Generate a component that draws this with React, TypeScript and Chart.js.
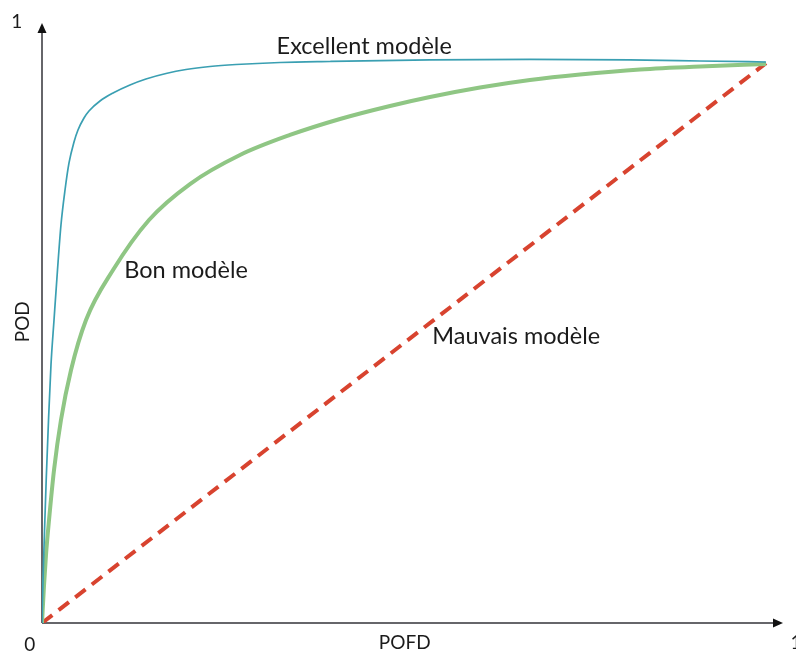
import React, { useEffect, useRef } from "react";
import { Chart, registerables } from "chart.js";

Chart.register(...registerables);

// POFD (x) and POD (y) values
const excellentX = [0, 0.0007, 0.0018, 0.0035, 0.0058, 0.009, 0.0124, 0.0166, 0.0214, 0.0262, 0.0318, 0.0373, 0.0442, 0.0497, 0.058, 0.0649, 0.0801, 0.0981, 0.1215, 0.1436, 0.1713, 0.1989, 0.232, 0.268, 0.3287, 0.3978, 0.5359, 0.674, 0.8122, 0.9088, 1.0];
const excellentY = [0, 0.041, 0.0945, 0.1658, 0.2549, 0.3619, 0.4599, 0.5401, 0.6292, 0.7094, 0.7718, 0.82, 0.8574, 0.8788, 0.9002, 0.9127, 0.9305, 0.9447, 0.959, 0.9697, 0.9795, 0.9866, 0.992, 0.9955, 0.9991, 1.0009, 1.0036, 1.0045, 1.0036, 1.0018, 1.0];

const bonX = [0, 0.0028, 0.0055, 0.0097, 0.0166, 0.0262, 0.0401, 0.0608, 0.0981, 0.1478, 0.2044, 0.2735, 0.3425, 0.4116, 0.4807, 0.5359, 0.605, 0.674, 0.7431, 0.826, 0.9088, 1.0];
const bonY = [0, 0.0677, 0.1212, 0.1836, 0.2727, 0.3619, 0.451, 0.5401, 0.6292, 0.7184, 0.7825, 0.8342, 0.8699, 0.8984, 0.9216, 0.9376, 0.9545, 0.9679, 0.9777, 0.9866, 0.992, 0.9964];

const mauvaisX = [0, 1];
const mauvaisY = [0, 0.998];

// Text labels and where they sit (data coordinates)
const curveLabels = [
  { text: "Excellent modèle", x: 0.445, y: 1.0285 },
  { text: "Bon modèle", x: 0.199, y: 0.629 },
  { text: "Mauvais modèle", x: 0.655, y: 0.51 },
];
const xAxisTitle = "POFD";
const yAxisTitle = "POD";
const originTick = "0";
const maxTick = "1";

const X_MAX = 1.0235;
const Y_MAX = 1.0695;

const toPoints = (xs: number[], ys: number[]) => xs.map((x, i) => ({ x, y: ys[i] }));

const FONT = "Lato, 'Open Sans', sans-serif";
const TEXT_COLOR = "#1b1b1b";
const AXIS_COLOR = "#66666a";

const overlayPlugin = {
  id: "rocOverlay",
  beforeDatasetsDraw(chart: any) {
    const { ctx, scales } = chart;
    const xs = scales.x;
    const ys = scales.y;
    const ox = xs.getPixelForValue(0);
    const oy = ys.getPixelForValue(0);
    const xEnd = xs.getPixelForValue(X_MAX);
    const yEnd = ys.getPixelForValue(Y_MAX);
    ctx.save();
    ctx.strokeStyle = AXIS_COLOR;
    ctx.lineWidth = 2;
    ctx.beginPath();
    ctx.moveTo(ox, oy);
    ctx.lineTo(xEnd - 8, oy);
    ctx.moveTo(ox, oy);
    ctx.lineTo(ox, yEnd + 8);
    ctx.stroke();
    ctx.fillStyle = "#111";
    ctx.beginPath();
    ctx.moveTo(xEnd, oy);
    ctx.lineTo(xEnd - 10, oy - 4.5);
    ctx.lineTo(xEnd - 10, oy + 4.5);
    ctx.closePath();
    ctx.fill();
    ctx.beginPath();
    ctx.moveTo(ox, yEnd);
    ctx.lineTo(ox - 4.5, yEnd + 10);
    ctx.lineTo(ox + 4.5, yEnd + 10);
    ctx.closePath();
    ctx.fill();
    ctx.restore();
  },
  afterDraw(chart: any) {
    const { ctx, scales } = chart;
    const xs = scales.x;
    const ys = scales.y;
    ctx.save();
    ctx.fillStyle = TEXT_COLOR;
    ctx.textBaseline = "middle";
    ctx.textAlign = "center";
    ctx.font = `23.5px ${FONT}`;
    curveLabels.forEach((l) => {
      ctx.fillText(l.text, xs.getPixelForValue(l.x), ys.getPixelForValue(l.y));
    });
    ctx.font = `19px ${FONT}`;
    ctx.fillText(xAxisTitle, xs.getPixelForValue(0.501), ys.getPixelForValue(-0.036));
    ctx.fillText(originTick, xs.getPixelForValue(-0.017), ys.getPixelForValue(-0.039));
    ctx.fillText(maxTick, xs.getPixelForValue(-0.035), ys.getPixelForValue(1.071));
    ctx.textAlign = "left";
    ctx.fillText(maxTick, xs.getPixelForValue(1.034), ys.getPixelForValue(-0.036));
    ctx.save();
    ctx.textAlign = "center";
    ctx.translate(xs.getPixelForValue(-0.026), ys.getPixelForValue(0.537));
    ctx.rotate(-Math.PI / 2);
    ctx.fillText(yAxisTitle, 0, 0);
    ctx.restore();
    ctx.restore();
  },
};

export default function App() {
  const ref = useRef<HTMLCanvasElement>(null);
  useEffect(() => {
    if (!ref.current) return;
    const chart = new Chart(ref.current, {
      type: "scatter",
      data: {
        datasets: [
          {
            label: "Mauvais modèle",
            data: toPoints(mauvaisX, mauvaisY),
            showLine: true,
            borderColor: "#d8432f",
            borderWidth: 4,
            borderDash: [13, 8],
            pointRadius: 0,
            order: 3,
          },
          {
            label: "Bon modèle",
            data: toPoints(bonX, bonY),
            showLine: true,
            borderColor: "#8fc684",
            borderWidth: 4,
            pointRadius: 0,
            cubicInterpolationMode: "monotone",
            order: 2,
          },
          {
            label: "Excellent modèle",
            data: toPoints(excellentX, excellentY),
            showLine: true,
            borderColor: "#3a9fb2",
            borderWidth: 1.7,
            pointRadius: 0,
            cubicInterpolationMode: "monotone",
            order: 1,
          },
        ],
      },
      options: {
        responsive: false,
        animation: false,
        layout: { padding: { left: 42, right: 13, top: 23, bottom: 32 } },
        plugins: { legend: { display: false }, tooltip: { enabled: false } },
        scales: {
          x: { type: "linear", min: 0, max: X_MAX, display: false },
          y: { type: "linear", min: 0, max: Y_MAX, display: false },
        },
      },
      plugins: [overlayPlugin],
    });
    return () => chart.destroy();
  }, []);
  return (
    <div style={{ position: "fixed", left: 0, top: 0, width: 796, height: 655, background: "#fff" }}>
      <canvas ref={ref} width={796} height={655} />
    </div>
  );
}
